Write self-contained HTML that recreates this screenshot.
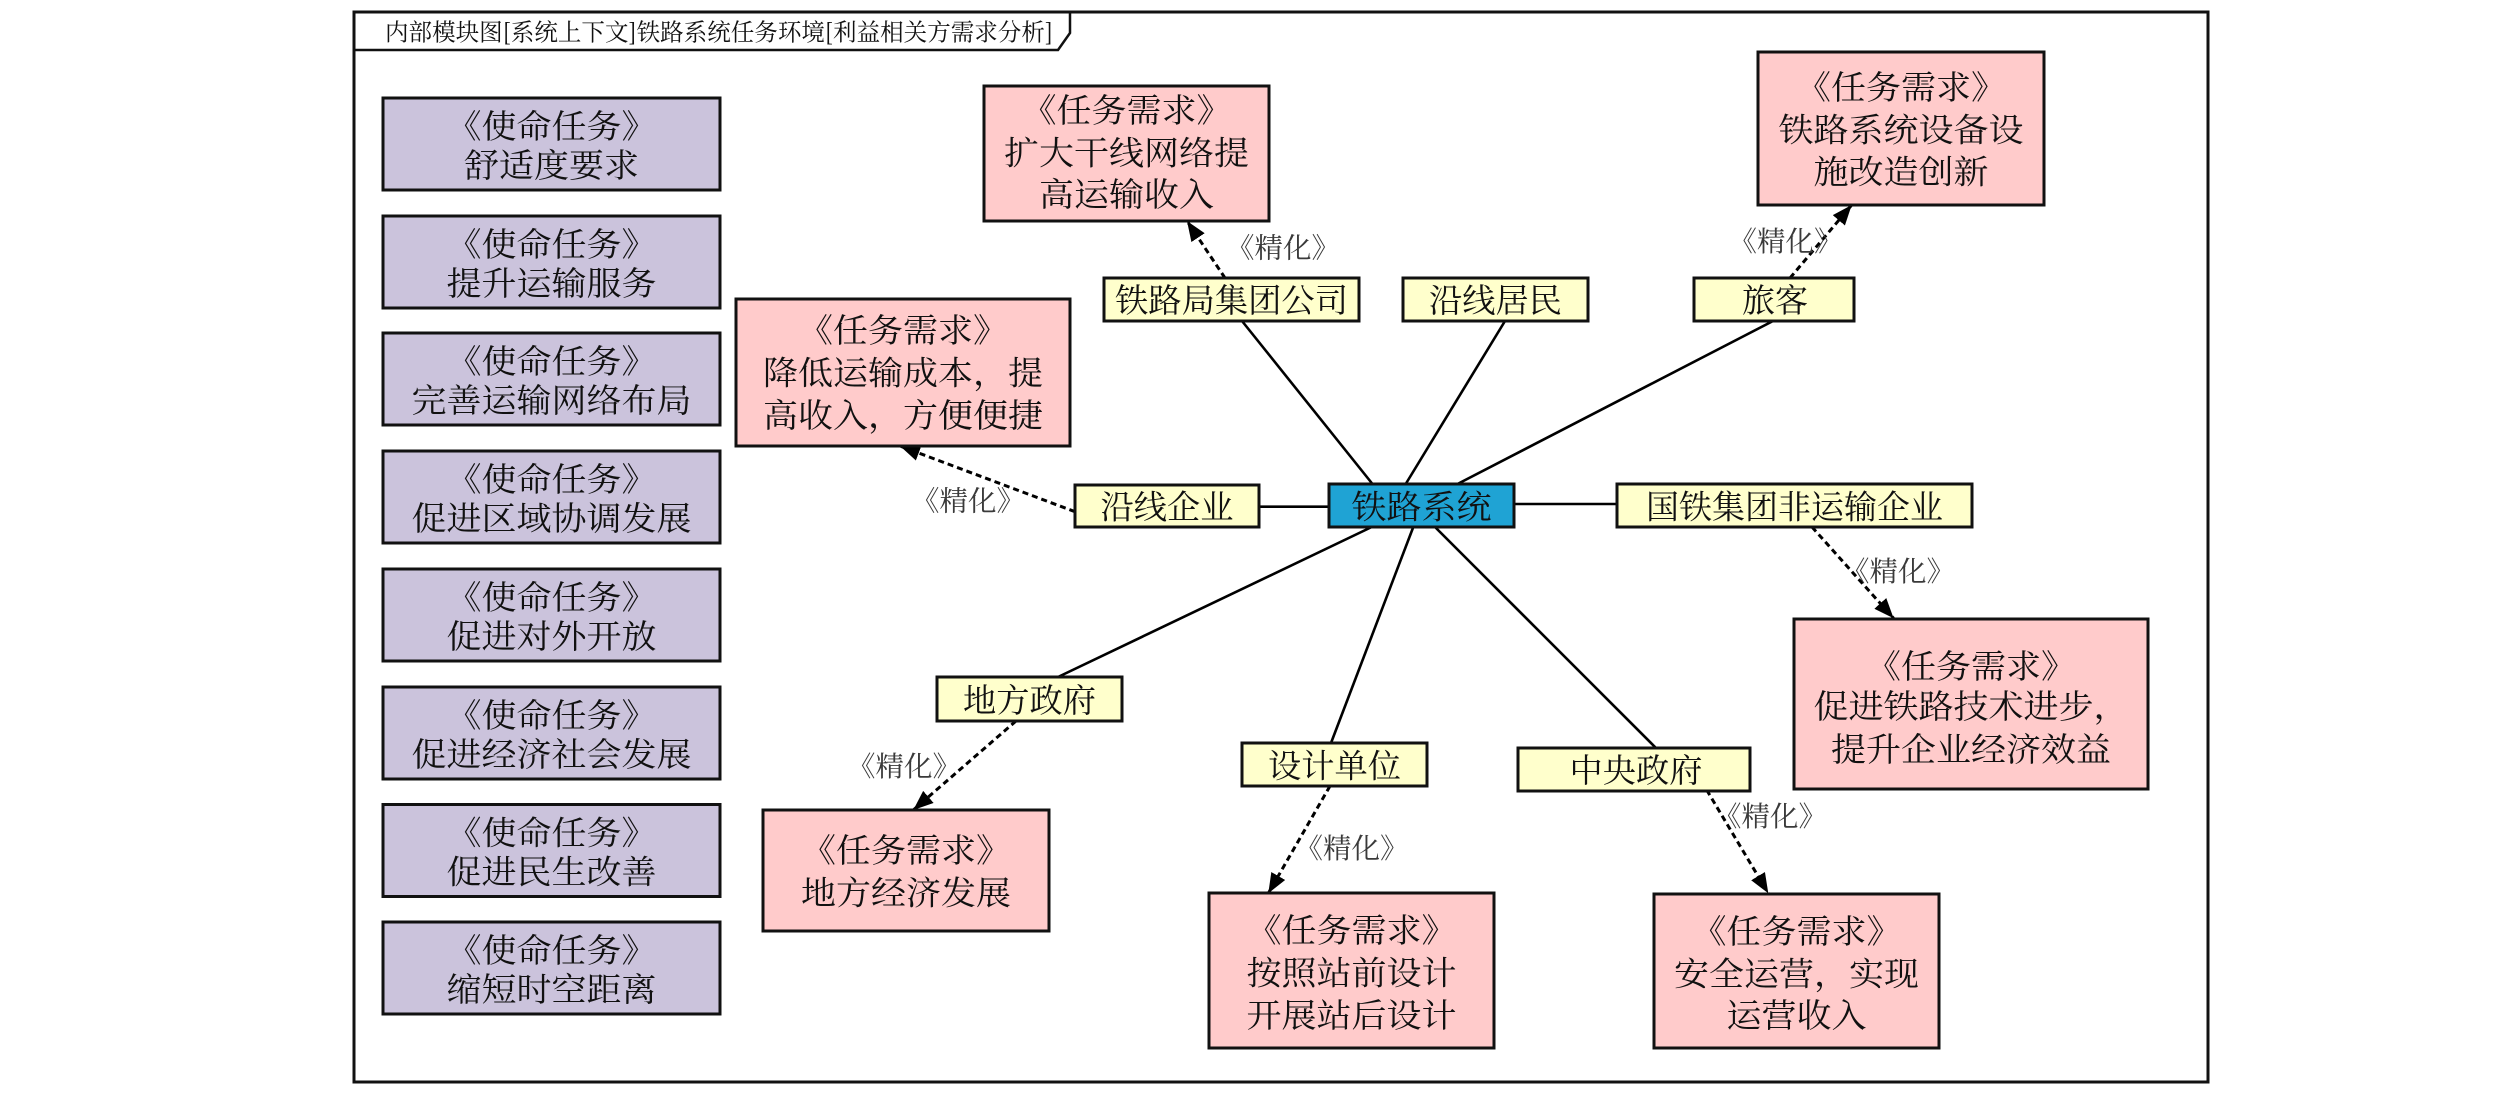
<!DOCTYPE html>
<html>
<head>
<meta charset="utf-8">
<style>
html,body{margin:0;padding:0;background:#fff;}
body{width:2520px;height:1096px;overflow:hidden;}
svg{display:block;}
text{font-family:"Liberation Serif","Noto Serif CJK SC",serif;}
.t{font-size:33px;fill:#111;text-anchor:middle;}
.lb{font-size:28px;fill:#3a3a3a;text-anchor:middle;}
.mis{fill:#CBC3DC;stroke:#111;stroke-width:3;}
.req{fill:#FFCBCB;stroke:#111;stroke-width:3;}
.yel{fill:#FFFFCC;stroke:#111;stroke-width:3;}
.blu{fill:#1FA3D4;stroke:#111;stroke-width:3;}
.ln{stroke:#000;stroke-width:2.6;fill:none;}
.dl{stroke:#000;stroke-width:3;fill:none;stroke-dasharray:6 4;}
</style>
</head>
<body>
<svg width="2520" height="1096" viewBox="0 0 2520 1096" xmlns="http://www.w3.org/2000/svg">
<defs>
<marker id="ah" markerWidth="22" markerHeight="18" refX="20" refY="8" orient="auto" markerUnits="userSpaceOnUse">
<path d="M0,0 L20,8 L0,16 Z" fill="#000"/>
</marker>
</defs>

<!-- frame -->
<rect x="354" y="12" width="1854" height="1070" fill="none" stroke="#111" stroke-width="3"/>
<polyline points="354,50 1058,50 1070,33 1070,12" fill="none" stroke="#111" stroke-width="2.5"/>
<text x="385" y="40.5" style="font-family:'Noto Serif CJK SC','Liberation Serif',serif;font-size:24px;fill:#111;" textLength="668" lengthAdjust="spacingAndGlyphs">内部模块图[系统上下文]铁路系统任务环境[利益相关方需求分析]</text>

<!-- mission boxes -->
<g>
<rect class="mis" x="383" y="98" width="337" height="92"/>
<text class="t" x="551.5" y="138" textLength="210" lengthAdjust="spacingAndGlyphs">《使命任务》</text>
<text class="t" x="551.5" y="177" textLength="175" lengthAdjust="spacingAndGlyphs">舒适度要求</text>

<rect class="mis" x="383" y="216" width="337" height="92"/>
<text class="t" x="551.5" y="256" textLength="210" lengthAdjust="spacingAndGlyphs">《使命任务》</text>
<text class="t" x="551.5" y="295" textLength="210" lengthAdjust="spacingAndGlyphs">提升运输服务</text>

<rect class="mis" x="383" y="333" width="337" height="92"/>
<text class="t" x="551.5" y="373" textLength="210" lengthAdjust="spacingAndGlyphs">《使命任务》</text>
<text class="t" x="551.5" y="412" textLength="280" lengthAdjust="spacingAndGlyphs">完善运输网络布局</text>

<rect class="mis" x="383" y="451" width="337" height="92"/>
<text class="t" x="551.5" y="491" textLength="210" lengthAdjust="spacingAndGlyphs">《使命任务》</text>
<text class="t" x="551.5" y="530" textLength="280" lengthAdjust="spacingAndGlyphs">促进区域协调发展</text>

<rect class="mis" x="383" y="569" width="337" height="92"/>
<text class="t" x="551.5" y="609" textLength="210" lengthAdjust="spacingAndGlyphs">《使命任务》</text>
<text class="t" x="551.5" y="648" textLength="210" lengthAdjust="spacingAndGlyphs">促进对外开放</text>

<rect class="mis" x="383" y="687" width="337" height="92"/>
<text class="t" x="551.5" y="727" textLength="210" lengthAdjust="spacingAndGlyphs">《使命任务》</text>
<text class="t" x="551.5" y="766" textLength="280" lengthAdjust="spacingAndGlyphs">促进经济社会发展</text>

<rect class="mis" x="383" y="804.5" width="337" height="92"/>
<text class="t" x="551.5" y="844.5" textLength="210" lengthAdjust="spacingAndGlyphs">《使命任务》</text>
<text class="t" x="551.5" y="883.5" textLength="210" lengthAdjust="spacingAndGlyphs">促进民生改善</text>

<rect class="mis" x="383" y="922" width="337" height="92"/>
<text class="t" x="551.5" y="962" textLength="210" lengthAdjust="spacingAndGlyphs">《使命任务》</text>
<text class="t" x="551.5" y="1001" textLength="210" lengthAdjust="spacingAndGlyphs">缩短时空距离</text>
</g>

<!-- solid connectors -->
<line class="ln" x1="1372.5" y1="484" x2="1242" y2="321"/>
<line class="ln" x1="1405.7" y1="484" x2="1505" y2="321"/>
<line class="ln" x1="1457.5" y1="484" x2="1773" y2="321"/>
<line class="ln" x1="1259" y1="506.7" x2="1329" y2="506.7"/>
<line class="ln" x1="1514" y1="504" x2="1617" y2="504"/>
<line class="ln" x1="1371.7" y1="527" x2="1058" y2="677"/>
<line class="ln" x1="1413.3" y1="527" x2="1331" y2="743"/>
<line class="ln" x1="1435" y1="527" x2="1656" y2="748"/>

<!-- dashed refine arrows -->
<line class="dl" x1="1225" y1="278" x2="1187" y2="221" marker-end="url(#ah)"/>
<line class="dl" x1="1790" y1="278" x2="1851.7" y2="205" marker-end="url(#ah)"/>
<line class="dl" x1="1075" y1="511.7" x2="900" y2="446" marker-end="url(#ah)"/>
<line class="dl" x1="1812" y1="527" x2="1893.6" y2="618.3" marker-end="url(#ah)"/>
<line class="dl" x1="1016" y1="721" x2="913.3" y2="810" marker-end="url(#ah)"/>
<line class="dl" x1="1330" y1="786" x2="1268.3" y2="893.3" marker-end="url(#ah)"/>
<line class="dl" x1="1706.7" y1="790" x2="1768.3" y2="893.3" marker-end="url(#ah)"/>

<!-- refine labels -->
<text class="lb" x="1283" y="257.5" textLength="114" lengthAdjust="spacingAndGlyphs">《精化》</text>
<text class="lb" x="1785.5" y="251" textLength="114" lengthAdjust="spacingAndGlyphs">《精化》</text>
<text class="lb" x="968" y="510.5" textLength="114" lengthAdjust="spacingAndGlyphs">《精化》</text>
<text class="lb" x="1898" y="581" textLength="114" lengthAdjust="spacingAndGlyphs">《精化》</text>
<text class="lb" x="904" y="776" textLength="114" lengthAdjust="spacingAndGlyphs">《精化》</text>
<text class="lb" x="1351.5" y="858" textLength="114" lengthAdjust="spacingAndGlyphs">《精化》</text>
<text class="lb" x="1770" y="826" textLength="114" lengthAdjust="spacingAndGlyphs">《精化》</text>

<!-- requirement boxes -->
<rect class="req" x="984" y="86" width="285" height="135"/>
<text class="t" x="1126.5" y="122" textLength="210" lengthAdjust="spacingAndGlyphs">《任务需求》</text>
<text class="t" x="1126.5" y="164.5" textLength="245" lengthAdjust="spacingAndGlyphs">扩大干线网络提</text>
<text class="t" x="1126.5" y="206" textLength="175" lengthAdjust="spacingAndGlyphs">高运输收入</text>

<rect class="req" x="1758" y="52" width="286" height="153"/>
<text class="t" x="1901" y="99" textLength="210" lengthAdjust="spacingAndGlyphs">《任务需求》</text>
<text class="t" x="1901" y="141.3" textLength="245" lengthAdjust="spacingAndGlyphs">铁路系统设备设</text>
<text class="t" x="1901" y="183.7" textLength="175" lengthAdjust="spacingAndGlyphs">施改造创新</text>

<rect class="req" x="736" y="299" width="334" height="147"/>
<text class="t" x="903" y="342" textLength="210" lengthAdjust="spacingAndGlyphs">《任务需求》</text>
<text class="t" x="903" y="384.7" textLength="280" lengthAdjust="spacingAndGlyphs">降低运输成本，提</text>
<text class="t" x="903" y="427" textLength="280" lengthAdjust="spacingAndGlyphs">高收入，方便便捷</text>

<rect class="req" x="1794" y="619" width="354" height="170"/>
<text class="t" x="1971" y="678" textLength="210" lengthAdjust="spacingAndGlyphs">《任务需求》</text>
<text class="t" x="1971" y="718" textLength="315" lengthAdjust="spacingAndGlyphs">促进铁路技术进步，</text>
<text class="t" x="1971" y="761" textLength="280" lengthAdjust="spacingAndGlyphs">提升企业经济效益</text>

<rect class="req" x="763" y="810" width="286" height="121"/>
<text class="t" x="906" y="862" textLength="210" lengthAdjust="spacingAndGlyphs">《任务需求》</text>
<text class="t" x="906" y="904.7" textLength="210" lengthAdjust="spacingAndGlyphs">地方经济发展</text>

<rect class="req" x="1209" y="893" width="285" height="155"/>
<text class="t" x="1351.5" y="942" textLength="210" lengthAdjust="spacingAndGlyphs">《任务需求》</text>
<text class="t" x="1351.5" y="984.7" textLength="210" lengthAdjust="spacingAndGlyphs">按照站前设计</text>
<text class="t" x="1351.5" y="1027" textLength="210" lengthAdjust="spacingAndGlyphs">开展站后设计</text>

<rect class="req" x="1654" y="894" width="285" height="154"/>
<text class="t" x="1796.5" y="943" textLength="210" lengthAdjust="spacingAndGlyphs">《任务需求》</text>
<text class="t" x="1796.5" y="985.3" textLength="245" lengthAdjust="spacingAndGlyphs">安全运营，实现</text>
<text class="t" x="1796.5" y="1027" textLength="140" lengthAdjust="spacingAndGlyphs">运营收入</text>

<!-- stakeholder boxes -->
<rect class="yel" x="1104" y="278" width="255" height="43"/>
<text class="t" x="1231.5" y="312" textLength="233" lengthAdjust="spacingAndGlyphs">铁路局集团公司</text>

<rect class="yel" x="1403" y="278" width="185" height="43"/>
<text class="t" x="1495.5" y="312" textLength="133" lengthAdjust="spacingAndGlyphs">沿线居民</text>

<rect class="yel" x="1694" y="278" width="160" height="43"/>
<text class="t" x="1775" y="312" textLength="66" lengthAdjust="spacingAndGlyphs">旅客</text>

<rect class="yel" x="1075" y="485" width="184" height="42"/>
<text class="t" x="1167" y="518.5" textLength="133" lengthAdjust="spacingAndGlyphs">沿线企业</text>

<rect class="blu" x="1329" y="484" width="185" height="43"/>
<text class="t" x="1421.5" y="518.5" textLength="140" lengthAdjust="spacingAndGlyphs">铁路系统</text>

<rect class="yel" x="1617" y="484" width="355" height="43"/>
<text class="t" x="1794.5" y="518.5" textLength="297" lengthAdjust="spacingAndGlyphs">国铁集团非运输企业</text>

<rect class="yel" x="937" y="677" width="185" height="44"/>
<text class="t" x="1029.5" y="712" textLength="133" lengthAdjust="spacingAndGlyphs">地方政府</text>

<rect class="yel" x="1242" y="743" width="185" height="43"/>
<text class="t" x="1334.5" y="777.5" textLength="133" lengthAdjust="spacingAndGlyphs">设计单位</text>

<rect class="yel" x="1518" y="748" width="232" height="43"/>
<text class="t" x="1636" y="782" textLength="133" lengthAdjust="spacingAndGlyphs">中央政府</text>
</svg>
</body>
</html>
